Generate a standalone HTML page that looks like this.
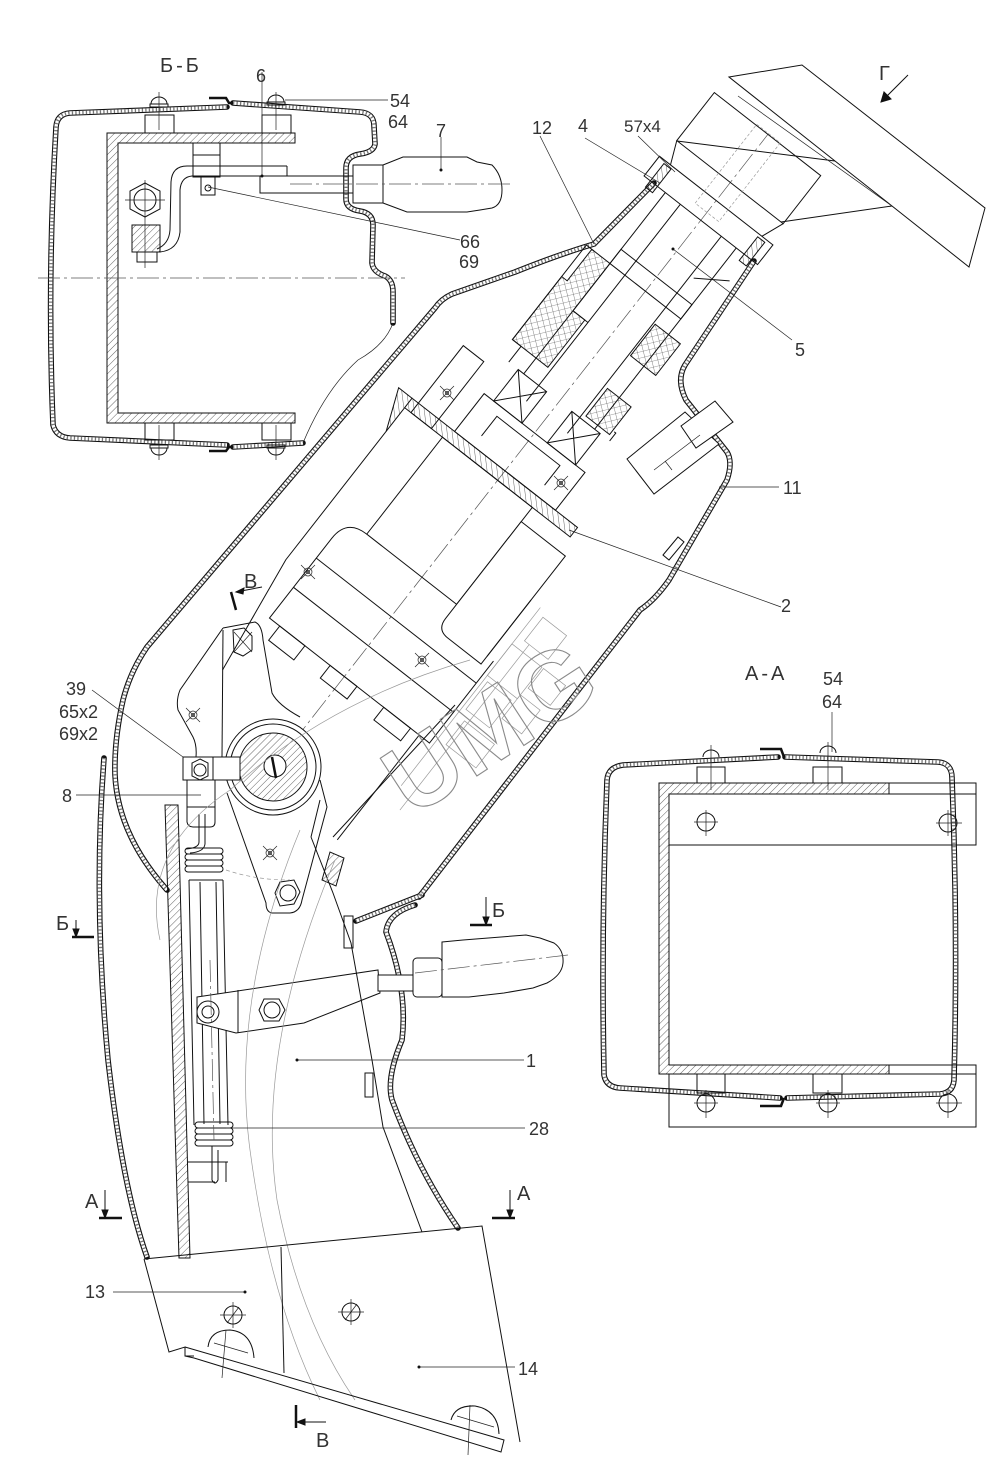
<!DOCTYPE html>
<html><head><meta charset="utf-8"><style>
html,body{margin:0;padding:0;background:#fff}
svg{display:block}
.k{stroke:#111;stroke-width:1;fill:none}
.t{stroke:#222;stroke-width:.7;fill:none}
.g{stroke:#999;stroke-width:.7;fill:none}
.cl{stroke:#555;stroke-width:.7;stroke-dasharray:22 4 3 4;fill:none}
.s1{stroke:#111;stroke-width:5.6;fill:none;stroke-linejoin:round;stroke-linecap:round}
.s2{stroke:#fff;stroke-width:3.4;fill:none;stroke-linejoin:round}
.s3{stroke:#777;stroke-width:3.4;fill:none;stroke-dasharray:1.3 2.2}
text{font-family:"Liberation Sans",sans-serif;font-size:18px;fill:#333}
</style></head><body>
<svg width="1008" height="1465" viewBox="0 0 1008 1465" xmlns="http://www.w3.org/2000/svg">
<defs>
<pattern id="h" width="5" height="5" patternUnits="userSpaceOnUse" patternTransform="rotate(45)"><line x1="0" y1="0" x2="0" y2="5" stroke="#222" stroke-width=".7"/></pattern>
<pattern id="x" width="6" height="6" patternUnits="userSpaceOnUse" patternTransform="rotate(38)"><path d="M0,0 L0,6 M0,0 L6,0" stroke="#333" stroke-width=".6" fill="none"/></pattern>
<path id="bb1" d="M227,107 L70,113 Q57,114 56,127 Q47,280 53,425 Q56,437 70,438 L227,445"/>
<path id="bb2" d="M233,103 L360,112 Q374,113 374,126 L375,144 Q374,152 360,154 Q346,156 346,168 L346,199 Q346,209 360,211 Q373,213 373,225 L372,263 Q373,272 385,276 Q393,280 393,292 L393,323"/>
<path id="bb3" d="M233,447 L303,443"/>
<path id="aa1" d="M778,757 L623,765 Q608,767 607,780 Q601,930 604,1075 Q606,1087 620,1088 L780,1098"/>
<path id="aa2" d="M785,757 L938,762 Q952,763 952,778 Q958,930 954,1080 Q953,1093 940,1094 L787,1098"/>
<path id="mL" d="M654,183 L594,244 Q560,254 515,272 L452,294 Q441,299 435,308 L147,647 Q130,672 123,700 Q114,740 115,775 Q118,835 167,890"/>
<path id="mR" d="M754,261 L685,365 Q676,380 686,400 L727,452 Q733,462 727,480 L669,580 Q655,600 640,610 L419,897"/>
<path id="pL" d="M104,758 Q93,900 108,1060 Q123,1190 147,1257"/>
<path id="pA" d="M422,895 L356,921"/>
<path id="pB" d="M415,905 Q388,913 386,932 Q408,990 402,1040 Q386,1078 392,1100 Q418,1170 458,1228"/>
</defs>

<!-- shells -->
<g class="s1"><use href="#bb1"/><use href="#bb2"/><use href="#bb3"/><use href="#aa1"/><use href="#aa2"/><use href="#mL"/><use href="#mR"/><use href="#pL"/><use href="#pA"/><use href="#pB"/></g>
<g class="s2"><use href="#bb1"/><use href="#bb2"/><use href="#bb3"/><use href="#aa1"/><use href="#aa2"/><use href="#mL"/><use href="#mR"/><use href="#pL"/><use href="#pA"/><use href="#pB"/></g>
<g class="s3"><use href="#bb1"/><use href="#bb2"/><use href="#bb3"/><use href="#aa1"/><use href="#aa2"/><use href="#mL"/><use href="#mR"/><use href="#pL"/><use href="#pA"/><use href="#pB"/></g>

<!-- ============ Б-Б section ============ -->
<g class="k">
<path d="M209,98 L226,98 L229,103 L233,103" stroke-width="2.5"/>
<path d="M209,451 L226,451 L229,447 L233,447" stroke-width="2.5"/>
<path d="M107,133 L295,133 L295,143 L118,143 L118,413 L295,413 L295,423 L107,423 Z" fill="url(#h)"/>
<rect x="145" y="115" width="29" height="18"/><rect x="262" y="115" width="29" height="18"/>
<rect x="145" y="423" width="29" height="17"/><rect x="262" y="423" width="29" height="17"/>
<rect x="150" y="104" width="18" height="3"/><path d="M151,104 A8,7 0 0 1 167,104"/>
<rect x="267" y="102" width="18" height="3"/><path d="M268,102 A8,7 0 0 1 284,102"/>
<rect x="150" y="445" width="18" height="3"/><path d="M151,448 A8,7 0 0 0 167,448"/>
<rect x="267" y="445" width="18" height="3"/><path d="M268,448 A8,7 0 0 0 284,448"/>
<path d="M159,92 V130 M276,92 V130 M159,425 V460 M276,425 V460" class="t"/>
<rect x="193" y="143" width="27" height="12"/><rect x="193" y="155" width="27" height="22"/>
<path d="M287,166 L187,166 Q172,166 171,182 L170,230 Q169,244 157,249"/>
<path d="M287,166 L287,176 L192,176 Q181,177 180,190 L180,232 Q178,250 160,252"/>
<rect x="201" y="177" width="14" height="18"/><circle cx="208" cy="188" r="3"/>
<rect x="132" y="225" width="28" height="27" fill="url(#h)"/><rect x="137" y="252" width="20" height="10"/>
<polygon points="145,183 160,191 160,209 145,217 130,209 130,191"/><circle cx="145" cy="200" r="11"/>
<path d="M125,200 H165 M145,180 V268" class="t"/>
<path d="M260,176 L260,193 L353,193 M287,176 L353,176"/>
<path d="M353,165 L383,165 L383,203 L353,203 Z"/>
<path d="M383,165 L403,157 L467,157 L477,162 L492,165 Q502,175 502,190 Q502,205 492,208 L480,210 L467,212 L407,212 L383,203"/>
<path d="M262,72 V176" class="t"/>
<path d="M285,100 L388,100" class="t"/>
<path d="M441,137 V170" class="t"/>
<path d="M208,187 L460,240" class="t"/>
<path d="M393,323 Q385,345 358,360 Q325,390 303,443" class="t"/>
</g>
<line class="cl" x1="38" y1="278" x2="405" y2="278"/>
<line class="cl" x1="290" y1="184" x2="512" y2="184"/>

<!-- ============ А-А section ============ -->
<g class="k">
<path d="M760,749 L781,749 L784,757" stroke-width="2.5"/>
<path d="M760,1106 L781,1106 L784,1098" stroke-width="2.5"/>
<path d="M659,783 L889,783 L889,794 L669,794 L669,1065 L889,1065 L889,1074 L659,1074 Z" fill="url(#h)"/>
<path d="M889,783 H976 V845 H669 M889,794 H976"/>
<path d="M889,1065 H976 V1127 H669 V1074 M889,1074 H976"/>
<rect x="697" y="767" width="28" height="16"/><rect x="813" y="767" width="29" height="16"/>
<rect x="697" y="1074" width="28" height="19"/><rect x="813" y="1074" width="29" height="19"/>
<path d="M703,757 A8,7 0 0 1 719,757 M820,753 A8,7 0 0 1 836,753"/>
<circle cx="706" cy="822" r="9"/><circle cx="948" cy="823" r="9"/>
<circle cx="706" cy="1103" r="9"/><circle cx="828" cy="1103" r="9"/><circle cx="948" cy="1103" r="9"/>
<path class="t" d="M694,822 H718 M706,810 V836 M936,823 H962 M948,810 V836 M694,1103 H718 M706,1090 V1118 M816,1103 H840 M828,1090 V1118 M936,1103 H962 M948,1090 V1118 M711,745 V790 M828,742 V790"/>
<path class="t" d="M832,712 V752"/>
</g>

<!-- ============ main duct, rotated mechanism ============ -->
<g transform="translate(276,764) rotate(-52)">
<line class="cl" x1="-40" y1="0" x2="800" y2="0"/>
<g class="k">
<path d="M41,-100 L167,-118 L360,-118"/>
<rect x="360" y="-118" width="12" height="210" fill="url(#h)"/>
<rect x="237" y="-70" width="123" height="114"/>
<path d="M237,-70 Q237,-95 212,-95 L111,-95 L111,108 L215,108"/>
<line x1="150" y1="-95" x2="150" y2="108"/><line x1="187" y1="-95" x2="187" y2="108"/>
<path d="M342,44 L342,100 L205,100 L205,58 Q205,44 219,44 Z" fill="#fff"/>
<rect x="93" y="-82" width="18" height="32"/><rect x="95" y="-18" width="16" height="34"/><rect x="95" y="50" width="16" height="34"/>
<line x1="-22" y1="95" x2="111" y2="95"/>
<line x1="215" y1="100" x2="286" y2="100"/>
<path d="M330,-118 L372,-135 L372,-118" fill="url(#h)"/>
<rect x="372" y="-64" width="48" height="128"/>
<path d="M385,-40 H410 V40 H385"/>
<rect x="420" y="-52" width="40" height="36"/><path d="M420,-52 L460,-16 M460,-52 L420,-16"/>
<rect x="420" y="16" width="40" height="36"/><path d="M420,16 L460,52 M460,16 L420,52"/>
<rect x="360" y="-110" width="85" height="26"/>
<path d="M460,-64 L480,-64 L480,-75 L600,-75 L600,-65 M460,64 L470,64 L470,62"/>
<path d="M480,-75 L560,-75 L560,-68 L600,-68 L600,-45 L540,-45 L540,-30 L480,-30 Z" fill="url(#x)"/>
<path d="M540,28 L580,28 L580,60 L540,60 Z" fill="url(#x)"/>
<path d="M465,30 L500,30 L500,60 L465,60 Z" fill="url(#x)"/>
<path d="M460,-45 L690,-45 M460,45 L690,45 M440,-26 L690,-26 M440,26 L690,26"/>
<rect x="600" y="-45" width="18" height="90"/>
<path d="M640,30 L660,60 M540,-26 L540,-45"/>
<rect x="690" y="-72" width="25" height="144"/>
<rect x="682" y="-64" width="30" height="9" fill="url(#h)"/><rect x="682" y="55" width="30" height="9" fill="url(#h)"/>
<path d="M715,-58 L738,-68 M715,58 L738,67"/>
<rect x="738" y="-68" width="61" height="135"/>
</g>
<rect class="g" x="700" y="-15" width="100" height="30" stroke-dasharray="3 2"/>
<g class="g">
<rect x="200" y="112" width="40" height="38"/><rect x="160" y="116" width="35" height="30"/>
<rect x="120" y="122" width="30" height="38"/><rect x="215" y="152" width="25" height="28"/>
<rect x="175" y="150" width="30" height="25"/><rect x="250" y="120" width="30" height="30"/>
<line x1="60" y1="112" x2="286" y2="112"/><line x1="40" y1="126" x2="250" y2="126"/>
</g>
</g>

<!-- hood & top -->
<g class="k">
<path d="M729,77 L802,65 L985,208 L969,267 L892,206 L835,161 Z"/>
<path d="M677,141 L835,161 M781,222 L892,206"/>
<path d="M738,96 L892,206" class="t"/>
<polygon points="627,459 685,412 719,444 654,494" fill="#fff"/>
<polygon points="681,426 715,401 733,422 696,448" fill="#fff"/>
<path d="M654,470 L700,435 M665,461 L672,470" class="t"/>
<polygon points="663,555 678,537 684,542 669,560"/>
</g>

<!-- lever assembly -->
<g class="k">
<path d="M223,628 L255,622 Q262,625 263,640 L272,693 Q278,705 300,717"/>
<path d="M223,628 L180,690 Q176,700 178,710 L193,737 Q197,745 196,757"/>
<line x1="223" y1="630" x2="222" y2="757"/>
<circle cx="273" cy="767" r="48" fill="#fff"/>
<circle cx="273" cy="767" r="43"/>
<circle cx="273" cy="767" r="34" fill="url(#h)"/>
<circle cx="275" cy="766" r="11" fill="#fff"/>
<line x1="272" y1="757" x2="276" y2="778" stroke-width="2.5"/>
<path d="M320,780 L327,807 L302,900 Q300,912 290,913 L272,913 Q266,912 266,903 L227,793"/>
<polygon points="233,630 244,628 252,636 252,650 243,656 234,652"/><path d="M234,632 L252,652 M252,632 L234,652" class="t"/>
<polygon points="280,882 294,880 300,892 294,904 280,906 275,893"/><circle cx="288" cy="893" r="8"/>
<rect x="183" y="757" width="30" height="23" fill="#fff"/>
<polygon points="200,759 208,763 208,776 200,780 192,776 192,763"/><circle cx="200" cy="770" r="6"/>
<rect x="213" y="757" width="27" height="23" fill="#fff"/>
<path d="M187,780 V822 Q188,827 193,827 H210 Q215,827 215,822 V780 M187,807 H215"/>
<path d="M199,814 V842 Q199,848 186,849 M205,814 V844 Q204,852 190,853"/>
<rect x="185" y="848" width="38" height="6" rx="3"/><rect x="185" y="854" width="38" height="6" rx="3"/>
<rect x="185" y="860" width="38" height="6" rx="3"/><rect x="185" y="866" width="38" height="6" rx="3"/>
<path d="M189,880 H223 M189,880 L194,1125 M223,880 L228,1125 M200,882 L204,1124 M216,882 L220,1124"/>
<rect x="195" y="1122" width="38" height="6" rx="3"/><rect x="195" y="1128" width="38" height="6" rx="3"/>
<rect x="195" y="1134" width="38" height="6" rx="3"/><rect x="195" y="1140" width="38" height="6" rx="3"/>
<path d="M212,1146 V1180 Q215,1186 218,1180 V1150 M188,1162 H228 M188,1182 H215 M226,1162 V1182"/>
<polygon points="165,805 178,805 190,1258 179,1258" fill="url(#h)"/>
<polygon points="322,880 330,852 344,858 336,886" fill="url(#h)"/>
<rect x="344" y="916" width="9" height="32" fill="#fff"/>
<rect x="365" y="1073" width="8" height="24"/>
<path d="M197,997 L378,970 L380,993 L304,1023 L236,1033 L197,1023 Z" fill="#fff"/>
<line x1="238" y1="990" x2="238" y2="1033"/>
<rect x="378" y="975" width="37" height="16" fill="#fff"/>
<rect x="413" y="958" width="29" height="39" rx="4" fill="#fff"/>
<path d="M442,942 L463,940 L526,935 L540,938 L554,943 Q564,950 563,963 Q562,975 547,983 L533,988 L504,993 L469,997 L442,997 Z" fill="#fff"/>
<circle cx="208" cy="1012" r="11"/><circle cx="208" cy="1012" r="6"/>
<polygon points="264,999 279,999 285,1010 279,1021 264,1021 259,1010"/><circle cx="272" cy="1010" r="8"/>
<path d="M311,837 L333,893 L351,943 L372,1060 L383,1127 L422,1232"/>
<path d="M333,837 L455,705 M311,837 L320,800"/>
</g>
<line class="cl" x1="415" y1="973" x2="568" y2="955"/>
<line class="cl" x1="210" y1="960" x2="214" y2="1140"/>

<!-- thin arcs -->
<g class="g">
<path d="M300,830 Q230,1000 250,1150 Q270,1300 320,1400"/>
<path d="M335,860 Q255,1050 277,1200 Q300,1320 355,1400"/>
<path d="M226,870 Q255,880 290,880" stroke-dasharray="4 3"/>
<path d="M160,940 Q140,850 230,790 Q330,700 470,660"/>
</g>

<!-- lower block 13/14 -->
<g class="k">
<path d="M144,1259 L482,1226 L520,1442 M144,1259 L169,1352 L185,1347 L185,1356 L194,1356"/>
<path d="M185,1347 L504,1440 L501,1452 L194,1358 L185,1356"/>
<line x1="281" y1="1247" x2="284" y2="1373"/>
<circle cx="233" cy="1315" r="9"/><path class="t" d="M220,1315 H246 M233,1302 V1328 M227,1323 L239,1307"/>
<circle cx="351" cy="1312" r="9"/><path class="t" d="M338,1312 H364 M351,1299 V1325 M345,1320 L357,1304"/>
<path d="M208,1347 Q210,1330 230,1330 Q252,1332 254,1358"/><path d="M214,1343 L248,1353 M226,1330 L222,1378" class="t"/>
<path d="M451,1420 Q455,1405 475,1406 Q498,1410 499,1434"/><path d="M457,1416 L494,1427 M470,1405 L468,1455" class="t"/>
</g>

<!-- screw symbols -->
<g class="t">
<circle cx="308" cy="572" r="4"/><circle cx="308" cy="572" r="1.5"/><path d="M301,565 L315,579 M315,565 L301,579"/>
<circle cx="422" cy="660" r="4"/><circle cx="422" cy="660" r="1.5"/><path d="M415,653 L429,667 M429,653 L415,667"/>
<circle cx="193" cy="715" r="4"/><circle cx="193" cy="715" r="1.5"/><path d="M186,708 L200,722 M200,708 L186,722"/>
<circle cx="270" cy="853" r="4"/><circle cx="270" cy="853" r="1.5"/><path d="M263,846 L277,860 M277,846 L263,860"/>
<circle cx="447" cy="393" r="4"/><circle cx="447" cy="393" r="1.5"/><path d="M440,386 L454,400 M454,386 L440,400"/>
<circle cx="561" cy="483" r="4"/><circle cx="561" cy="483" r="1.5"/><path d="M554,476 L568,490 M568,476 L554,490"/>
</g>

<!-- watermark -->
<text transform="translate(412,818) rotate(-33)" style="font-size:98px;font-weight:bold;fill:none;stroke:#8a8a8a;stroke-width:1.1">UMG</text>

<!-- leaders -->
<g class="t">
<path d="M540,136 L594,244"/>
<path d="M585,138 L660,183"/>
<path d="M638,136 L675,172"/>
<path d="M792,340 L673,249"/>
<path d="M779,487 L719,487"/>
<path d="M781,607 L569,530"/>
<path d="M92,690 L183,757"/>
<path d="M76,795 L201,795"/>
<path d="M297,1060 L524,1060"/>
<path d="M226,1128 L525,1128"/>
<path d="M113,1292 L245,1292"/>
<path d="M419,1367 L515,1367"/>
</g>
<g fill="#111"><circle cx="297" cy="1060" r="1.5"/><circle cx="245" cy="1292" r="1.5"/><circle cx="419" cy="1367" r="1.5"/><circle cx="673" cy="249" r="1.5"/><circle cx="441" cy="170" r="1.5"/><circle cx="262" cy="176" r="1.5"/></g>

<!-- section markers -->
<g class="k">
<path d="M231,592 L236,610" stroke-width="2.5"/><path d="M236,592 L262,587"/><path d="M236,592 L244,588 L243,594 Z" fill="#111"/>
<path d="M72,937 H94" stroke-width="2.5"/><path d="M76,920 V937"/><path d="M76,937 L73,929 L79,929 Z" fill="#111"/>
<path d="M470,925 H492" stroke-width="2.5"/><path d="M486,897 V925"/><path d="M486,925 L483,917 L489,917 Z" fill="#111"/>
<path d="M99,1218 H122" stroke-width="2.5"/><path d="M105,1190 V1218"/><path d="M105,1218 L102,1210 L108,1210 Z" fill="#111"/>
<path d="M492,1218 H515" stroke-width="2.5"/><path d="M510,1190 V1218"/><path d="M510,1218 L507,1210 L513,1210 Z" fill="#111"/>
<path d="M296,1405 V1428" stroke-width="2.5"/><path d="M297,1422 H326"/><path d="M297,1422 L305,1419 L305,1425 Z" fill="#111"/>
<path d="M908,75 L881,102"/><path d="M881,102 L884,92 L891,99 Z" fill="#111"/>
</g>

<!-- labels -->
<text x="160" y="72" style="font-size:20px;letter-spacing:3px">Б-Б</text>
<text x="256" y="82">6</text>
<text x="390" y="107">54</text>
<text x="388" y="128">64</text>
<text x="436" y="137">7</text>
<text x="460" y="248">66</text>
<text x="459" y="268">69</text>
<text x="532" y="134">12</text>
<text x="578" y="132">4</text>
<text x="624" y="132" style="font-size:17px">57x4</text>
<text x="879" y="80" style="font-size:20px">Г</text>
<text x="795" y="356">5</text>
<text x="783" y="494">11</text>
<text x="781" y="612">2</text>
<text x="745" y="680" style="font-size:20px;letter-spacing:3px">А-А</text>
<text x="823" y="685">54</text>
<text x="822" y="708">64</text>
<text x="66" y="695">39</text>
<text x="59" y="718">65x2</text>
<text x="59" y="740">69x2</text>
<text x="62" y="802">8</text>
<text x="244" y="588" style="font-size:20px">В</text>
<text x="56" y="930" style="font-size:20px">Б</text>
<text x="492" y="917" style="font-size:20px">Б</text>
<text x="526" y="1067">1</text>
<text x="529" y="1135">28</text>
<text x="85" y="1208" style="font-size:20px">А</text>
<text x="517" y="1200" style="font-size:20px">А</text>
<text x="85" y="1298">13</text>
<text x="518" y="1375">14</text>
<text x="316" y="1447" style="font-size:20px">В</text>
</svg>
</body></html>
